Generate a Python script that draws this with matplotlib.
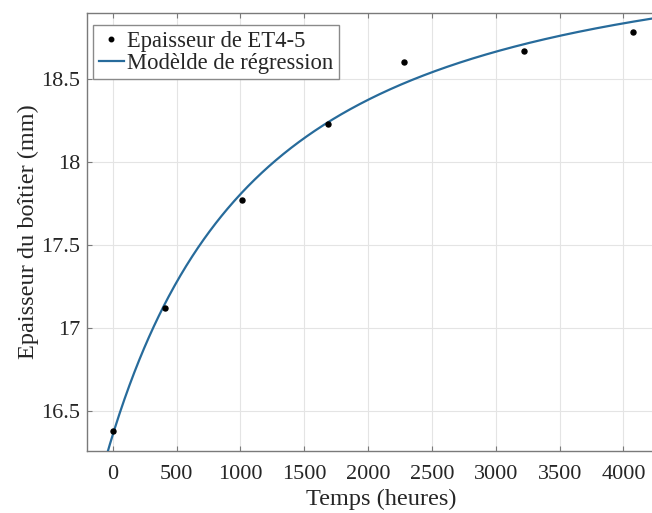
import numpy as np
import matplotlib
matplotlib.use("Agg")
import matplotlib.pyplot as plt

# ---- data ----
hours = [0, 406, 1011, 1686, 2284, 3220, 4072]
thickness = [16.38, 17.12, 17.77, 18.23, 18.60, 18.67, 18.78]

# regression model: y = A - B * (t + c) ** p
model_A = 19.3555
model_B = 230960.0
model_c = 1810.0
model_p = -1.5

x_ticks = [0, 500, 1000, 1500, 2000, 2500, 3000, 3500, 4000]
x_tick_labels = ["0", "500", "1000", "1500", "2000", "2500", "3000", "3500", "4000"]
y_ticks = [16.5, 17.0, 17.5, 18.0, 18.5]
y_tick_labels = ["16.5", "17", "17.5", "18", "18.5"]

label_points = "Epaisseur de ET4-5"
label_model = "Modèlde de régression"
xlabel = "Temps (heures)"
ylabel = "Epaisseur du boîtier (mm)"

plt.rcParams["font.family"] = ["Liberation Serif", "DejaVu Serif"]

W, H = 652, 513
fig = plt.figure(figsize=(W / 100, H / 100), dpi=100)
ax_left, ax_top, ax_bottom = 87.3, 12.7, 450.7
xmin, xmax = -200, 4400
px_per_unit = 0.12766
ax_w = (xmax - xmin) * px_per_unit
ax = fig.add_axes([ax_left / W, (H - ax_bottom) / H, ax_w / W, (ax_bottom - ax_top) / H])

t = np.linspace(xmin, xmax, 600)
curve = model_A - model_B * (t + model_c) ** model_p

line_color = "#276b9b"
ax.plot(hours, thickness, linestyle="none", marker="o", markersize=3.6,
        color="black", label=label_points, zorder=4)
ax.plot(t, curve, color=line_color, lw=1.6, label=label_model, zorder=3)

ax.set_xlim(xmin, xmax)
ax.set_ylim(16.259, 18.898)
ax.set_xticks(x_ticks)
ax.set_xticklabels(x_tick_labels)
ax.set_yticks(y_ticks)
ax.set_yticklabels(y_tick_labels)

ax.grid(True, color="#e4e4e4", lw=0.8)
ax.set_axisbelow(True)
spine_c = "#7a7a7a"
for s in ax.spines.values():
    s.set_color(spine_c)
    s.set_linewidth(1.0)
ax.tick_params(direction="in", length=3.5, width=0.8, color=spine_c,
               labelcolor="#262626", labelsize=16, top=True, right=True)
ax.tick_params(axis="x", pad=10.5)
ax.tick_params(axis="y", pad=5)

ax.set_xlabel(xlabel, fontsize=17.5, color="#262626", labelpad=3.5)
ax.set_ylabel(ylabel, fontsize=17.5, color="#262626", labelpad=2)

leg = ax.legend(loc="upper left", bbox_to_anchor=(93.3 / W, 1 - 25 / H),
                bbox_transform=fig.transFigure, borderaxespad=0,
                fontsize=16.3, frameon=True, fancybox=False, framealpha=1,
                edgecolor="#8a8a8a", handlelength=1.1, handletextpad=0.15,
                borderpad=0.25, labelspacing=0.05, markerscale=0.9)
leg.get_frame().set_linewidth(1.0)
for txt in leg.get_texts():
    txt.set_color("#262626")

fig.savefig("out.png", dpi=100)
